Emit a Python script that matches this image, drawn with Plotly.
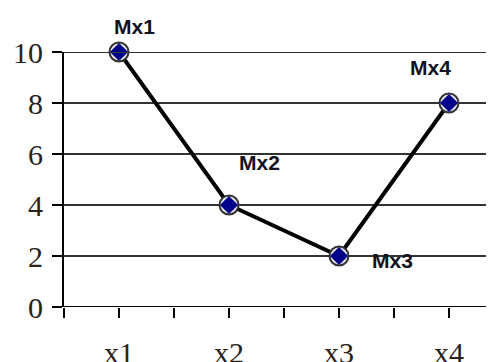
import plotly.graph_objects as go

categories = ["x1", "x2", "x3", "x4"]
values = [10, 4, 2, 8]
point_labels = ["Mx1", "Mx2", "Mx3", "Mx4"]
y_ticks = [0, 2, 4, 6, 8, 10]

# category centres sit half-way between boundary ticks
xpos = [i + 0.5 for i in range(len(categories))]
tickvals = []
ticktext = []
for i, c in enumerate(categories):
    tickvals += [i, i + 0.5]
    ticktext += ["", c]

label_offsets = [(15, 26), (30, 43), (53, -4), (-19, 36)]

fig = go.Figure()
fig.add_trace(go.Scatter(
    x=xpos, y=values, mode="lines",
    line=dict(color="black", width=4),
    hoverinfo="skip", cliponaxis=False))
fig.add_trace(go.Scatter(
    x=xpos, y=values, mode="markers",
    marker=dict(symbol="circle", size=19, color="#e8e8ec",
                line=dict(color="#333333", width=2)),
    hoverinfo="skip", cliponaxis=False))
fig.add_trace(go.Scatter(
    x=xpos, y=values, mode="markers",
    marker=dict(symbol="diamond", size=14, color="#00008b",
                line=dict(width=0)),
    cliponaxis=False))

for x, y, t, (dx, dy) in zip(xpos, values, point_labels, label_offsets):
    fig.add_annotation(x=x, y=y, text="<b>%s</b>" % t, showarrow=False,
                       xshift=dx, yshift=dy,
                       font=dict(family="Liberation Sans, Arial", size=21,
                                 color="#111122"))

# page body adds an 8px offset, so the figure is drawn 8px smaller
fig.update_layout(
    width=486, height=354,
    margin=dict(l=56, r=0, t=44, b=55),
    paper_bgcolor="white", plot_bgcolor="white",
    showlegend=False,
    xaxis=dict(range=[0, 3.909], tickmode="array", tickvals=tickvals,
               ticktext=ticktext, ticks="outside", ticklen=10,
               tickwidth=2, tickcolor="black", showgrid=False,
               zeroline=False, showline=False, automargin=False,
               ticklabelstandoff=9,
               tickfont=dict(family="Liberation Serif", size=30,
                             color="#2a2218")),
    yaxis=dict(range=[0, 10], tickmode="array", tickvals=y_ticks,
               ticks="outside", ticklen=10, tickwidth=2,
               tickcolor="black", showgrid=True, gridcolor="#333333",
               gridwidth=2, zeroline=False, showline=True,
               linecolor="black", linewidth=2, automargin=False,
               ticklabelstandoff=3,
               tickfont=dict(family="Liberation Serif", size=30,
                             color="#2a2218")),
)
fig.add_shape(type="line", xref="paper", yref="y", x0=0, x1=1, y0=0, y1=0,
              line=dict(color="black", width=2))
fig.add_shape(type="line", xref="paper", yref="y", x0=0, x1=1, y0=10, y1=10,
              line=dict(color="#333333", width=2))

fig.write_html("out.html")
